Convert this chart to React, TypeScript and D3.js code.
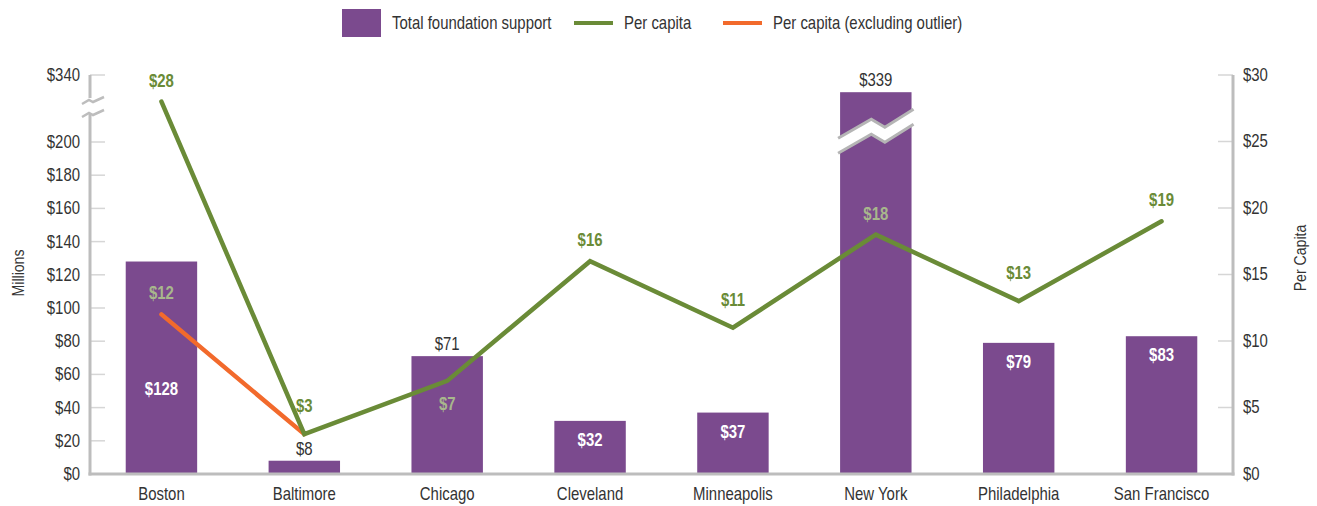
import React from "react";
import * as d3 from "d3";

const cities = ["Boston", "Baltimore", "Chicago", "Cleveland", "Minneapolis", "New York", "Philadelphia", "San Francisco"];
const totalSupport = [128, 8, 71, 32, 37, 339, 79, 83];
const perCapita = [28, 3, 7, 16, 11, 18, 13, 19];
const perCapitaExclOutlier: (number | null)[] = [12, 3, null, null, null, null, null, null];
const barLabelSide = ["insideLow", "above", "above", "inside", "inside", "above", "inside", "inside"];
const lineLabelSide = ["above", "above", "below", "above", "above", "above", "above", "above"];
const leftTicks = [0, 20, 40, 60, 80, 100, 120, 140, 160, 180, 200];
const leftTopTick = 340;
const rightTicks = [0, 5, 10, 15, 20, 25, 30];
const breakCap = 230;

const W = 1317, H = 506;
const FONT = "'Liberation Sans', Arial, sans-serif";
const SX = 0.83;
const PURPLE = "#7b4a8e";
const GREEN = "#6a8b37";
const ORANGE = "#f26a2c";
const LABEL_LIGHT = "#a8b78c";
const AXIS = "#bdbdbd";
const TEXT = "#333333";

function T(props: { x: number; y: number; size?: number; anchor?: string; weight?: string; fill?: string; rotate?: number; children: any }) {
  const { x, y, size = 18, anchor = "middle", weight = "normal", fill = TEXT, rotate, children } = props;
  const tr = `translate(${x},${y})${rotate !== undefined ? ` rotate(${rotate})` : ""} scale(${SX},1)`;
  return (
    <text transform={tr} fontSize={size} fontWeight={weight} fill={fill} textAnchor={anchor as any} dominantBaseline="central">
      {children}
    </text>
  );
}

export default function App() {
  const left = 90, right = 1233, top = 75, bottom = 474;
  const x = d3.scaleBand<string>().domain(cities).range([left, right]).paddingInner(0.5).paddingOuter(0.25);
  const yL = d3.scaleLinear().domain([0, 200]).range([bottom, 142]);
  const yR = d3.scaleLinear().domain([0, 30]).range([bottom, top]);
  const cx = (c: string) => (x(c) as number) + x.bandwidth() / 2;
  const barTop = (i: number) => yL(Math.min(totalSupport[i], breakCap));

  const lineGen = d3.line<{ c: string; v: number }>().x(d => cx(d.c)).y(d => yR(d.v));
  const greenPts = cities.map((c, i) => ({ c, v: perCapita[i] }));
  const orangePts = cities.map((c, i) => ({ c, v: perCapitaExclOutlier[i] })).filter(d => d.v !== null) as { c: string; v: number }[];

  const isLocalMin = (i: number) => {
    const p = perCapita[i];
    const a = i > 0 ? perCapita[i - 1] : Infinity;
    const b = i < perCapita.length - 1 ? perCapita[i + 1] : Infinity;
    return p < a && p < b;
  };

  const lineLabels: { x: number; y: number; t: string; fill: string }[] = [];
  cities.forEach((c, i) => {
    const py = yR(perCapita[i]);
    const off = isLocalMin(i) ? 28 : 21;
    const ly = lineLabelSide[i] === "above" ? py - off : py + 23;
    const inside = ly > barTop(i);
    lineLabels.push({ x: cx(c), y: ly, t: `$${perCapita[i]}`, fill: inside ? LABEL_LIGHT : GREEN });
  });
  orangePts.forEach(d => {
    const i = cities.indexOf(d.c);
    if (d.v === perCapita[i]) return;
    const ly = yR(d.v) - 21;
    const inside = ly > barTop(i);
    lineLabels.push({ x: cx(d.c), y: ly, t: `$${d.v}`, fill: inside ? LABEL_LIGHT : GREEN });
  });

  const breaks = cities.map((c, i) => {
    if (totalSupport[i] <= breakCap) return null;
    const x0 = (x(c) as number) - 2;
    const bw = x.bandwidth() + 4;
    const yb = barTop(i);
    const upper: [number, number][] = [
      [x0, yb + 46], [x0 + bw * 0.44, yb + 27], [x0 + bw * 0.62, yb + 35], [x0 + bw, yb + 17],
    ];
    const lower = upper.map(([a, b]) => [a, b + 15] as [number, number]);
    const poly = [...upper, ...lower.slice().reverse()];
    return { upper, lower, poly, key: c };
  }).filter(Boolean) as any[];

  const lp = d3.line();

  return (
    <svg width={W} height={H} style={{ position: "absolute", left: 0, top: 0, background: "#fff" }} fontFamily={FONT}>
      {/* Legend */}
      <g>
        <rect x={342} y={9} width={39} height={28} fill={PURPLE} />
        <T x={392} y={23} anchor="start">Total foundation support</T>
        <line x1={574} x2={613} y1={23} y2={23} stroke={GREEN} strokeWidth={4} />
        <T x={624} y={23} anchor="start">Per capita</T>
        <line x1={723} x2={762} y1={23} y2={23} stroke={ORANGE} strokeWidth={4} />
        <T x={773} y={23} anchor="start">Per capita (excluding outlier)</T>
      </g>

      {/* Left ticks */}
      {leftTicks.map(t => (
        <g key={"l" + t}>
          <line x1={left} x2={left + 15} y1={yL(t)} y2={yL(t)} stroke="#d6d6d6" strokeWidth={1.5} />
          <T x={80} y={yL(t)} anchor="end">{`$${t}`}</T>
        </g>
      ))}
      <line x1={left} x2={left + 15} y1={top} y2={top} stroke="#d6d6d6" strokeWidth={1.5} />
      <T x={80} y={top} anchor="end">{`$${leftTopTick}`}</T>

      {/* Right ticks */}
      {rightTicks.map(t => (
        <g key={"r" + t}>
          <line x1={right - 15} x2={right} y1={yR(t)} y2={yR(t)} stroke="#d6d6d6" strokeWidth={1.5} />
          <T x={1243} y={yR(t)} anchor="start">{`$${t}`}</T>
        </g>
      ))}

      {/* Axis titles */}
      <T x={18} y={273} rotate={-90} size={17}>Millions</T>
      <T x={1300} y={258} rotate={-90} size={17}>Per Capita</T>

      {/* Bars */}
      {cities.map((c, i) => (
        <rect key={"b" + c} x={x(c)} y={barTop(i)} width={x.bandwidth()} height={bottom - barTop(i)} fill={PURPLE} />
      ))}

      {/* Break bands */}
      {breaks.map(b => (
        <g key={"br" + b.key}>
          <path d={lp(b.poly) + "Z"} fill="#fff" />
          <path d={lp(b.upper) as string} fill="none" stroke="#b5b5b5" strokeWidth={3} />
          <path d={lp(b.lower) as string} fill="none" stroke="#b5b5b5" strokeWidth={3} />
        </g>
      ))}

      {/* Axes */}
      <line x1={left} x2={left} y1={top} y2={98} stroke={AXIS} strokeWidth={3} />
      <line x1={left} x2={left} y1={113} y2={bottom + 1.5} stroke={AXIS} strokeWidth={3} />
      <path d="M82,104 L89,100 L93,102 L104,97" fill="none" stroke={AXIS} strokeWidth={2.5} />
      <path d="M82,117 L89,113 L93,115 L104,110" fill="none" stroke={AXIS} strokeWidth={2.5} />
      <line x1={right} x2={right} y1={top} y2={bottom + 1.5} stroke={AXIS} strokeWidth={3} />
      <line x1={left - 1.5} x2={right + 1.5} y1={bottom} y2={bottom} stroke={AXIS} strokeWidth={3} />

      {/* Category labels */}
      {cities.map(c => (
        <T key={"c" + c} x={cx(c)} y={494}>{c}</T>
      ))}

      {/* Bar value labels */}
      {cities.map((c, i) => {
        const side = barLabelSide[i];
        const v = totalSupport[i];
        let y = barTop(i) - 12;
        let fill = TEXT;
        let weight = "normal";
        if (side === "inside") { y = barTop(i) + 19; fill = "#fff"; weight = "bold"; }
        if (side === "insideLow") { y = yL(v * 0.4); fill = "#fff"; weight = "bold"; }
        return (
          <T key={"v" + c} x={cx(c)} y={y} fill={fill} weight={weight}>{`$${v}`}</T>
        );
      })}

      {/* Lines */}
      <path d={lineGen(orangePts) as string} fill="none" stroke={ORANGE} strokeWidth={4.5} strokeLinejoin="round" strokeLinecap="round" />
      <path d={lineGen(greenPts) as string} fill="none" stroke={GREEN} strokeWidth={4.5} strokeLinejoin="miter" strokeLinecap="round" />

      {/* Line labels */}
      {lineLabels.map((l, k) => (
        <T key={"ll" + k} x={l.x} y={l.y} weight="bold" fill={l.fill}>{l.t}</T>
      ))}
    </svg>
  );
}
